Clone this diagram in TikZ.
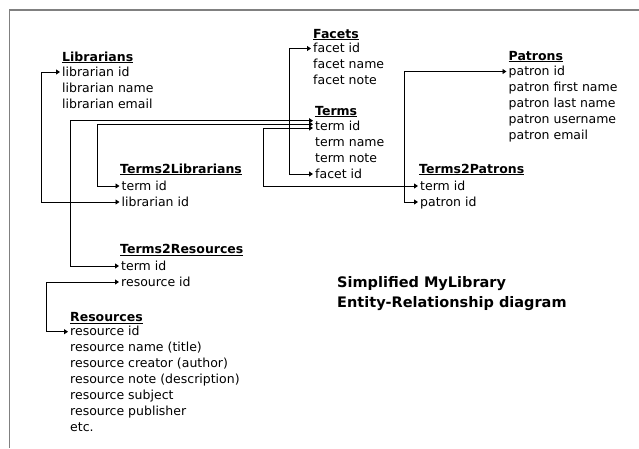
\documentclass[tikz,border=0pt]{standalone}
\usepackage{fontspec}
\setmainfont{DejaVu Sans}
\usetikzlibrary{arrows.meta}
\definecolor{framegray}{RGB}{128,128,128}

\begin{document}
\begin{tikzpicture}[x=1pt, y=-1pt,
    tabletitle/.style={anchor=west, inner xsep=0pt, inner ysep=0pt, text height=9pt, text depth=1pt, font=\fontsize{12.5}{14}\selectfont\bfseries},
    attr/.style={anchor=west, inner xsep=2pt, inner ysep=0pt, text height=9pt, text depth=1pt, font=\fontsize{12.5}{14}\selectfont},
    caption/.style={anchor=base west, inner sep=0pt, font=\fontsize{14.5}{20}\selectfont\bfseries},
    link/.style={<->, >={Triangle[length=4pt, width=5pt]}, line width=0.9pt}]
    \useasboundingbox (0,0) rectangle (639,448);

    % Window frame
    \draw[framegray, line width=1.5pt] (639,10) -- (9.5,10) -- (9.5,448);

    % Librarians
    \node[tabletitle] (lib) at (62,57) {\underline{Librarians}};
    \foreach \i/\txt in {1/librarian id, 2/librarian name, 3/librarian email}
        \node[attr] (lib\i) at ({60},{56+16*\i}) {\txt};

    % Facets
    \node[tabletitle] (fac) at (313,34) {\underline{Facets}};
    \foreach \i/\txt in {1/facet id, 2/facet name, 3/facet note}
        \node[attr] (fac\i) at ({311},{32.5+16*\i}) {\txt};

    % Terms
    \node[tabletitle] (terms) at (315,111) {\underline{Terms}};
    \foreach \i/\txt in {1/term id, 2/term name, 3/term note, 4/facet id}
        \node[attr] (terms\i) at ({313},{110+16*\i}) {\txt};

    % Patrons
    \node[tabletitle] (pat) at (508.5,56) {\underline{Patrons}};
    \foreach \i/\txt in {1/patron id, 2/patron first name, 3/patron last name, 4/patron username, 5/patron email}
        \node[attr] (pat\i) at ({506.5},{55.5+16*\i}) {\txt};

    % Terms2Librarians
    \node[tabletitle] (t2l) at (120,169) {\underline{Terms2Librarians}};
    \foreach \i/\txt in {1/term id, 2/librarian id}
        \node[attr] (t2l\i) at ({119.5},{170+16*\i}) {\txt};

    % Terms2Patrons
    \node[tabletitle] (t2p) at (419,169) {\underline{Terms2Patrons}};
    \foreach \i/\txt in {1/term id, 2/patron id}
        \node[attr] (t2p\i) at ({418},{170+16*\i}) {\txt};

    % Terms2Resources
    \node[tabletitle] (t2r) at (120,249.5) {\underline{Terms2Resources}};
    \foreach \i/\txt in {1/term id, 2/resource id}
        \node[attr] (t2r\i) at ({119},{250+16*\i}) {\txt};

    % Resources
    \node[tabletitle] (res) at (70,317.5) {\underline{Resources}};
    \foreach \i/\txt in {1/resource id, 2/resource name (title), 3/resource creator (author), 4/resource note (description), 5/resource subject, 6/resource publisher, 7/etc.}
        \node[attr] (res\i) at ({68},{315.7+16*\i}) {\txt};

    % Caption
    \node[caption] (capA) at (337,287) {Simplified MyLibrary};
    \node[caption] (capB) at (337,307) {Entity-Relationship diagram};

    % Relationships
    \draw[link] (t2l2.west) -- ++(-78.5,0) |- (lib1.west);
    \draw[link] (t2l1.west) -- ++(-22.5,0) |- ([yshift=1.7pt]terms1.west);
    \draw[link] (t2r1.west) -- ++(-49,0) |- ([yshift=5.3pt]terms1.west);
    \draw[link] (t2p1.west) -- ++(-154.7,0) |- ([yshift=-2pt]terms1.west);
    \draw[link] (fac1.west) -- ++(-21.7,0) |- (terms4.west);
    \draw[link] (pat1.west) -- ++(-102.5,0) |- (t2p2.west);
    \draw[link] (res1.west) -- ++(-22,0) |- (t2r2.west);
\end{tikzpicture}
\end{document}
